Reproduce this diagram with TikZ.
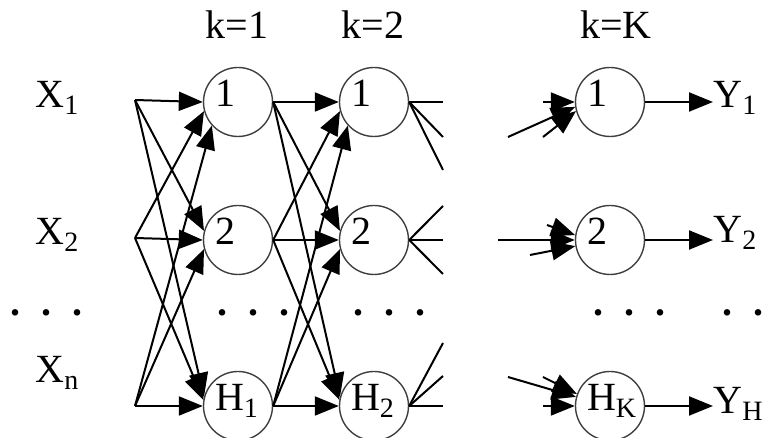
\documentclass[tikz,border=0pt]{standalone}
\usepackage{fontspec}
\setmainfont{Liberation Serif}
\usetikzlibrary{arrows.meta,positioning}

\newcommand{\dotgroup}{\textbf{.}\hspace{10.5pt}\textbf{.}\hspace{10.5pt}\textbf{.}}

\begin{document}
\begin{tikzpicture}[
    x=0.5pt, y=-0.5pt,
    font=\fontsize{20}{24}\selectfont,
    neuron/.style={circle, draw=black!75, line width=0.7pt, minimum size=34.5pt, inner sep=0pt, text width=23pt, align=left, text height=9pt, text depth=4pt},
    tag/.style={inner sep=0pt, anchor=base west},
    head/.style={inner sep=0pt, anchor=base},
    arrow/.style={-{Triangle[length=12pt, width=9.5pt]}, line width=1pt},
    wire/.style={line width=1pt}
]
\useasboundingbox (0,0) rectangle (784,438);

\node[tag] (x1) at (35,108) {X\textsubscript{1}};
\node[tag] (x2) at (35,245) {X\textsubscript{2}};
\node[tag] (xn) at (35,383) {X\textsubscript{n}};

\node[neuron] (a1) at (238,102) {1};
\node[neuron] (a2) at (238,240) {2};
\node[neuron] (aH) at (238,406) {H\textsubscript{1}};
\node[neuron] (b1) at (374,102) {1};
\node[neuron] (b2) at (374,240) {2};
\node[neuron] (bH) at (374,406) {H\textsubscript{2}};
\node[neuron] (c1) at (610,102) {1};
\node[neuron] (c2) at (610,240) {2};
\node[neuron] (cH) at (610,406) {H\textsubscript{K}};

\node[head] (k1) at (237,39) {k=1};
\node[head] (k2) at (373,39) {k=2};
\node[head] (kK) at (616,39) {k=K};

\node[tag] (d0) at (10,316) {\dotgroup};
\node[tag] (d1) at (217,316) {\dotgroup};
\node[tag] (d2) at (353,316) {\dotgroup};
\node[tag] (d3) at (593,316) {\dotgroup};
\node[tag] (d4) at (722,316) {\dotgroup};

\node[tag] (y1) at (713,108) {Y\textsubscript{1}};
\node[tag] (y2) at (713,243) {Y\textsubscript{2}};
\node[tag] (yH) at (713,414) {Y\textsubscript{H}};

\coordinate (in1) at (135,100);
\coordinate (in2) at (135,238);
\coordinate (inn) at (135,406);

\draw[arrow] (in1) -- (a1.west);
\draw[arrow] (in1) -- (a2.165);
\draw[arrow] (in1) -- (aH.165);
\draw[arrow] (in2) -- (a1.195);
\draw[arrow] (in2) -- (a2.west);
\draw[arrow] (in2) -- (aH.170);
\draw[arrow] (inn) -- (a1.222);
\draw[arrow] (inn) -- (a2.195);
\draw[arrow] (inn) -- (aH.west);

\draw[arrow] (a1.east) -- (b1.west);
\draw[arrow] (a1.east) -- (b2.165);
\draw[arrow] (a1.east) -- (bH.165);
\draw[arrow] (a2.east) -- (b1.195);
\draw[arrow] (a2.east) -- (b2.west);
\draw[arrow] (a2.east) -- (bH.170);
\draw[arrow] (aH.east) -- (b1.222);
\draw[arrow] (aH.east) -- (b2.195);
\draw[arrow] (aH.east) -- (bH.west);

\coordinate (f11) at (443,102);
\coordinate (f12) at (443,137);
\coordinate (f13) at (443,170);
\coordinate (f21) at (443,206);
\coordinate (f22) at (443,240);
\coordinate (f23) at (443,274);
\coordinate (f31) at (443,343);
\coordinate (f32) at (443,376);
\coordinate (f33) at (443,406);
\draw[wire] (b1.east) -- (f11);
\draw[wire] (b1.east) -- (f12);
\draw[wire] (b1.east) -- (f13);
\draw[wire] (b2.east) -- (f21);
\draw[wire] (b2.east) -- (f22);
\draw[wire] (b2.east) -- (f23);
\draw[wire] (bH.east) -- (f31);
\draw[wire] (bH.east) -- (f32);
\draw[wire] (bH.east) -- (f33);

\coordinate (g11) at (543,102);
\coordinate (g12) at (508,137);
\coordinate (g13) at (543,137);
\coordinate (g21) at (498,240);
\coordinate (g22) at (547,225);
\coordinate (g23) at (530,255);
\coordinate (g31) at (508,377);
\coordinate (g32) at (543,377);
\coordinate (g33) at (543,406);
\draw[arrow] (g11) -- (c1.west);
\draw[arrow] (g12) -- (c1.188);
\draw[arrow] (g13) -- (c1.195);
\draw[arrow] (g21) -- (c2.west);
\draw[arrow] (g22) -- (c2.172);
\draw[arrow] (g23) -- (c2.190);
\draw[arrow] (g31) -- (cH.165);
\draw[arrow] (g32) -- (cH.160);
\draw[arrow] (g33) -- (cH.west);

\draw[arrow] (c1.east) -- (c1.east -| y1.west);
\draw[arrow] (c2.east) -- (c2.east -| y2.west);
\draw[arrow] (cH.east) -- (cH.east -| yH.west);
\end{tikzpicture}
\end{document}
